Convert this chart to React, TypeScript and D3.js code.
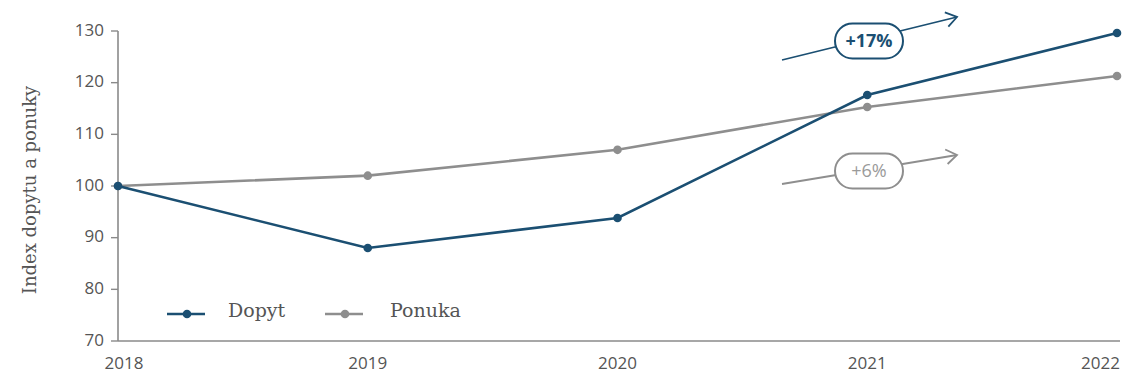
import React from "react";
import * as d3 from "d3";

const years = ["2018", "2019", "2020", "2021", "2022"];
const dopyt = [100, 88, 93.8, 117.6, 129.6];
const ponuka = [100, 102, 107, 115.3, 121.3];
const yTicks = [70, 80, 90, 100, 110, 120, 130];
const seriesNames = ["Dopyt", "Ponuka"];
const annotations = ["+17%", "+6%"];

const W = 1122, H = 374;
const BLUE = "#1b4f72";
const GREY = "#8e8e8e";
const SANS = "'Open Sans', 'DejaVu Sans', sans-serif";
const SERIF = "'DejaVu Serif', 'Liberation Serif', serif";

export default function App() {
  const x = d3.scalePoint<string>().domain(years).range([118, 1117]);
  const y = d3.scaleLinear().domain([70, 130]).range([341, 31]);
  const line = d3.line<number>().x((_, i) => x(years[i])!).y((d) => y(d));

  const series = [
    { name: seriesNames[0], data: dopyt, color: BLUE },
    { name: seriesNames[1], data: ponuka, color: GREY },
  ];

  const arrows = [
    { label: annotations[0], color: BLUE, x1: 782, y1: 60, x2: 957, y2: 17, cy: 41, bold: true, textColor: BLUE },
    { label: annotations[1], color: GREY, x1: 782, y1: 184, x2: 957, y2: 155, cy: 171, bold: false, textColor: "#9a9a9a" },
  ];

  return (
    <svg width={W} height={H} style={{ position: "absolute", left: 0, top: 0, background: "#fff" }}>
      <text
        transform={`translate(31,${190}) rotate(-90)`}
        textAnchor="middle"
        dominantBaseline="middle"
        fontFamily={SERIF}
        fontSize={18}
        fill="#555"
      >
        Index dopytu a ponuky
      </text>

      <line x1={118} x2={118} y1={y(130)} y2={y(70)} stroke="#8a8a8a" strokeWidth={1.6} />
      <line x1={118} x2={1120} y1={y(70)} y2={y(70)} stroke="#8a8a8a" strokeWidth={1.6} />
      {yTicks.map((t) => (
        <g key={t}>
          <line x1={111} x2={118} y1={y(t)} y2={y(t)} stroke="#8a8a8a" strokeWidth={1.4} />
          <text x={104} y={y(t)} textAnchor="end" dominantBaseline="middle" fontFamily={SANS} fontSize={17} fill="#555">
            {t}
          </text>
        </g>
      ))}
      {years.map((yr, i) => {
        const last = i === years.length - 1;
        const first = i === 0;
        return (
          <text
            key={yr}
            x={last ? 1120 : first ? 124 : x(yr)!}
            y={369}
            textAnchor={last ? "end" : "middle"}
            fontFamily={SANS}
            fontSize={17}
            fill="#555"
          >
            {yr}
          </text>
        );
      })}

      {[series[1], series[0]].map((s) => (
        <g key={s.name}>
          <path d={line(s.data)!} fill="none" stroke={s.color} strokeWidth={2.6} />
          {s.data.map((v, i) => (
            <circle key={i} cx={x(years[i])!} cy={y(v)} r={4.3} fill={s.color} />
          ))}
        </g>
      ))}

      {arrows.map((a) => {
        const cx = 869;
        const ang = Math.atan2(a.y2 - a.y1, a.x2 - a.x1);
        const hl = 13;
        const p1 = [a.x2 - hl * Math.cos(ang - 0.6), a.y2 - hl * Math.sin(ang - 0.6)];
        const p2 = [a.x2 - hl * Math.cos(ang + 0.6), a.y2 - hl * Math.sin(ang + 0.6)];
        return (
          <g key={a.label}>
            <line x1={a.x1} y1={a.y1} x2={a.x2} y2={a.y2} stroke={a.color} strokeWidth={1.8} />
            <polyline
              points={`${p1[0]},${p1[1]} ${a.x2},${a.y2} ${p2[0]},${p2[1]}`}
              fill="none"
              stroke={a.color}
              strokeWidth={1.8}
            />
            <rect x={cx - 34} y={a.cy - 17.5} width={68} height={35} rx={17.5} fill="#fff" stroke={a.color} strokeWidth={2} />
            <text
              x={cx}
              y={a.cy + 1}
              textAnchor="middle"
              dominantBaseline="middle"
              fontFamily={SANS}
              fontSize={18}
              fontWeight={a.bold ? 700 : 400}
              fill={a.textColor}
            >
              {a.label}
            </text>
          </g>
        );
      })}

      {series.map((s, i) => {
        const lx = i === 0 ? 167 : 325;
        const tx = i === 0 ? 228 : 390;
        return (
          <g key={s.name}>
            <line x1={lx} x2={lx + 38} y1={314} y2={314} stroke={s.color} strokeWidth={2.6} />
            <circle cx={lx + 20} cy={314} r={4.3} fill={s.color} />
            <text x={tx} y={312} dominantBaseline="middle" fontFamily={SERIF} fontSize={19} fill="#555">
              {s.name}
            </text>
          </g>
        );
      })}
    </svg>
  );
}
